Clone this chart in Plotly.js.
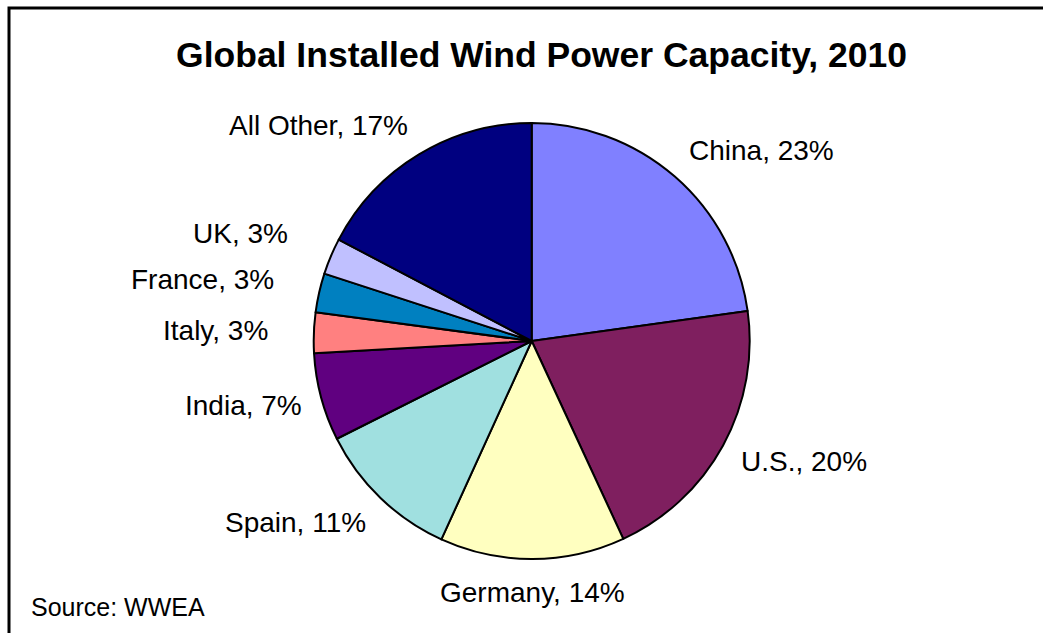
<!DOCTYPE html>
<html>
<head>
<meta charset="utf-8">
<script src="https://cdn.plot.ly/plotly-3.0.1.min.js"></script>
<style>html,body{margin:0;padding:0;background:#fff;}#chart{width:1043px;height:633px;}</style>
</head>
<body>
<div id="chart"></div>
<script>
const countries = ["China", "U.S.", "Germany", "Spain", "India", "Italy", "France", "UK", "All Other"];
const shares = [22.8, 20.3, 13.7, 10.8, 6.5, 3.0, 2.9, 2.7, 17.3];
const shareLabels = ["23%", "20%", "14%", "11%", "7%", "3%", "3%", "3%", "17%"];
const colors = ["#8080FF", "#7F1F5F", "#FFFFC0", "#A0E0E0", "#600080", "#FF8080", "#0080C0", "#C0C0FF", "#000080"];

const W = 1043, H = 633;
const cx = 531.7, cy = 341, r = 218;
const FONT = "Liberation Sans, Arial, sans-serif";
const LABEL_SIZE = 28;

const pie = {
  type: "pie",
  labels: countries,
  values: shares,
  textinfo: "none",
  sort: false,
  direction: "clockwise",
  rotation: 0,
  hoverinfo: "skip",
  marker: {colors: colors, line: {color: "#000000", width: 2}},
  domain: {x: [(cx - r) / W, (cx + r) / W], y: [(H - cy - r) / H, (H - cy + r) / H]},
  showlegend: false
};

// outside-end data labels, placed along each slice's mid-angle (derived from the data)
const total = shares.reduce((a, b) => a + b, 0);
let cum = 0;
const labelAnnots = countries.map((c, i) => {
  const mid = (cum + shares[i] / 2) / total * 2 * Math.PI;
  cum += shares[i];
  const s = Math.sin(mid), co = Math.cos(mid);
  const D = shares[i] / total < 0.05 ? 262 : 236;
  const px = cx + D * s, py = cy - D * co;
  return {
    text: c + ", " + shareLabels[i],
    xref: "paper", yref: "paper",
    x: px / W, y: 1 - py / H,
    xanchor: s > 0.3 ? "left" : (s < -0.3 ? "right" : "center"),
    yanchor: "middle",
    yshift: co * 16,
    showarrow: false,
    font: {family: FONT, size: LABEL_SIZE, color: "#000000"}
  };
});

const layout = {
  width: W, height: H,
  margin: {l: 0, r: 0, t: 0, b: 0},
  paper_bgcolor: "#ffffff",
  showlegend: false,
  title: {
    text: "<b>Global Installed Wind Power Capacity, 2010</b>",
    font: {family: FONT, size: 35.5, color: "#000000"},
    x: 541.5 / W, xanchor: "center",
    y: 1 - 55 / H, yanchor: "middle"
  },
  annotations: labelAnnots.concat([{
    text: "Source: WWEA",
    xref: "paper", yref: "paper",
    x: 29 / W, xanchor: "left",
    y: 1 - 607 / H, yanchor: "middle",
    showarrow: false,
    font: {family: FONT, size: 25, color: "#000000"}
  }]),
  shapes: [{
    type: "rect", xref: "paper", yref: "paper",
    x0: 9 / W, x1: 1.2, y0: -0.2, y1: 1 - 8 / H,
    line: {color: "#000000", width: 3}, fillcolor: "rgba(0,0,0,0)"
  }]
};

Plotly.newPlot("chart", [pie], layout, {displayModeBar: false, staticPlot: true});
</script>
</body>
</html>
